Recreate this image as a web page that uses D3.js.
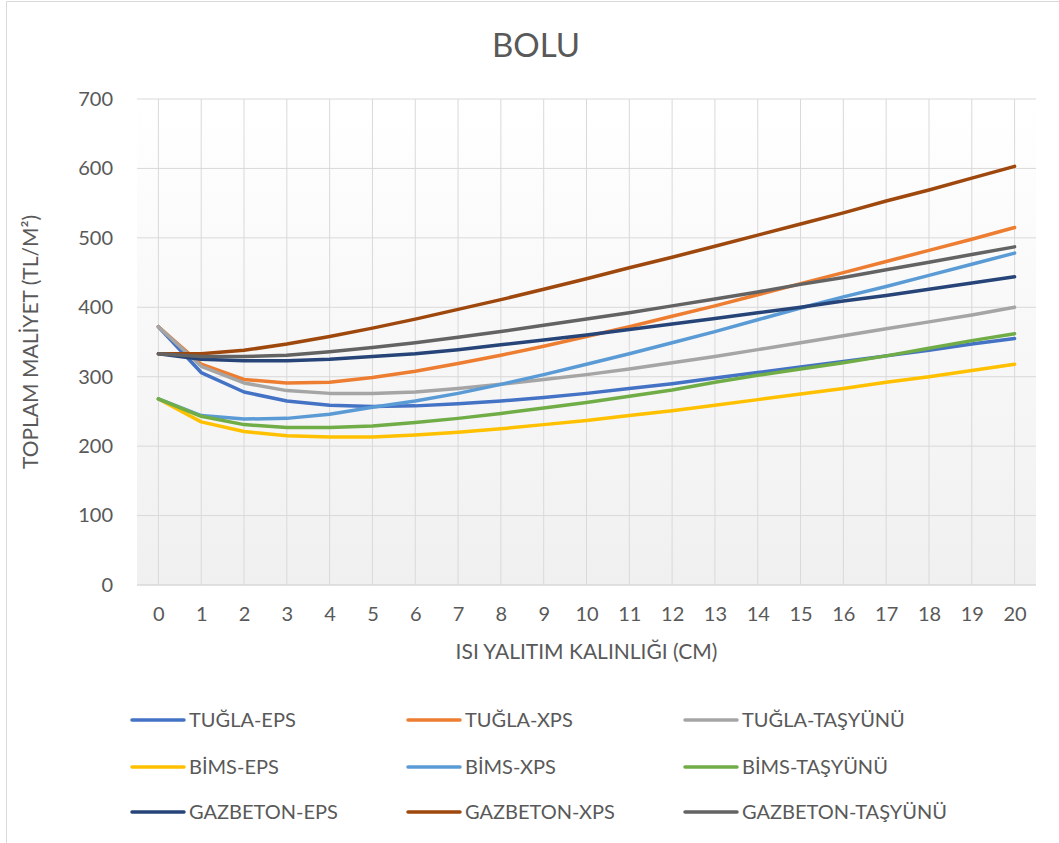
<!DOCTYPE html>
<html>
<head>
<meta charset="utf-8">
<script src="https://cdn.jsdelivr.net/npm/d3@7"></script>
<style>
  body { margin: 0; background: #fff; }
  text { font-family: Lato, "Open Sans", sans-serif; fill: #595959; }
</style>
</head>
<body>
<div id="chart"></div>
<script>
// data
var thickness = d3.range(0, 21).map(String);
var yTicks = [0, 100, 200, 300, 400, 500, 600, 700];

var tuglaEps      = [372, 306, 278, 265, 259, 257, 258, 261, 265, 270, 276, 283, 290, 298, 306, 314, 322, 330, 338, 347, 355];
var tuglaXps      = [372, 318, 296, 291, 292, 299, 308, 319, 331, 344, 358, 372, 387, 402, 418, 434, 450, 466, 482, 498, 515];
var tuglaTasyunu  = [372, 315, 291, 280, 276, 276, 278, 283, 289, 296, 303, 311, 320, 329, 339, 349, 359, 369, 379, 389, 400];
var bimsEps       = [268, 235, 221, 215, 213, 213, 216, 220, 225, 231, 237, 244, 251, 259, 267, 275, 283, 292, 300, 309, 318];
var bimsXps       = [268, 244, 239, 240, 246, 256, 265, 276, 289, 303, 318, 333, 349, 365, 382, 399, 415, 430, 446, 462, 478];
var bimsTasyunu   = [268, 243, 231, 227, 227, 229, 234, 240, 247, 255, 263, 272, 281, 292, 302, 311, 320, 330, 341, 352, 362];
var gazEps        = [333, 325, 323, 323, 325, 329, 333, 339, 346, 353, 360, 368, 376, 384, 392, 400, 409, 417, 426, 435, 444];
var gazXps        = [333, 333, 338, 347, 358, 370, 383, 397, 411, 426, 441, 457, 472, 488, 504, 520, 536, 553, 569, 586, 603];
var gazTasyunu    = [333, 329, 329, 331, 336, 342, 349, 357, 365, 374, 383, 392, 402, 412, 422, 433, 443, 454, 465, 476, 487];

var seriesNames = ["TUĞLA-EPS", "TUĞLA-XPS", "TUĞLA-TAŞYÜNÜ",
                   "BİMS-EPS", "BİMS-XPS", "BİMS-TAŞYÜNÜ",
                   "GAZBETON-EPS", "GAZBETON-XPS", "GAZBETON-TAŞYÜNÜ"];
var seriesColors = ["#4472c4", "#ed7d31", "#a5a5a5",
                    "#ffc000", "#5b9bd5", "#70ad47",
                    "#264478", "#9e480e", "#636363"];
var seriesValues = [tuglaEps, tuglaXps, tuglaTasyunu,
                    bimsEps, bimsXps, bimsTasyunu,
                    gazEps, gazXps, gazTasyunu];

var width = 1059, height = 843;
var plot = {left: 137, right: 1036, top: 99, bottom: 585};

var svg = d3.select("#chart").append("svg")
  .attr("width", width)
  .attr("height", height);

// chart frame (only the left and top edges show in the picture)
svg.append("path")
  .attr("d", "M6.5," + height + "V1.5H" + width)
  .attr("fill", "none")
  .attr("stroke", "#d9d9d9");

var defs = svg.append("defs");
var grad = defs.append("linearGradient")
  .attr("id", "plotbg")
  .attr("x1", 0).attr("y1", 0).attr("x2", 0).attr("y2", 1);
grad.append("stop").attr("offset", "0%").attr("stop-color", "#ffffff");
grad.append("stop").attr("offset", "100%").attr("stop-color", "#f0f0f0");

svg.append("rect")
  .attr("x", plot.left)
  .attr("y", plot.top)
  .attr("width", plot.right - plot.left)
  .attr("height", plot.bottom - plot.top)
  .attr("fill", "url(#plotbg)");

var x = d3.scalePoint()
  .domain(thickness)
  .range([plot.left, plot.right])
  .padding(0.5);

var y = d3.scaleLinear()
  .domain([0, 700])
  .range([plot.bottom, plot.top]);

// gridlines
svg.append("g")
  .selectAll("line")
  .data(thickness)
  .enter()
  .append("line")
    .attr("x1", function(d){ return x(d); })
    .attr("x2", function(d){ return x(d); })
    .attr("y1", plot.top)
    .attr("y2", plot.bottom)
    .attr("stroke", "#d9d9d9")
    .attr("stroke-width", 1);

svg.append("g")
  .selectAll("line")
  .data(yTicks)
  .enter()
  .append("line")
    .attr("x1", plot.left)
    .attr("x2", plot.right)
    .attr("y1", function(d){ return y(d); })
    .attr("y2", function(d){ return y(d); })
    .attr("stroke", "#d9d9d9")
    .attr("stroke-width", function(d){ return d === 0 ? 1.5 : 1; });

// axes
var yAxis = d3.axisLeft(y).tickValues(yTicks).tickSize(0).tickPadding(24);
svg.append("g")
  .attr("transform", "translate(" + plot.left + ",0)")
  .call(yAxis)
  .call(function(g){ g.select(".domain").remove(); })
  .selectAll("text")
    .style("font-family", "Lato, sans-serif")
    .style("font-size", "20px")
    .style("fill", "#595959");

var xAxis = d3.axisBottom(x).tickSize(0).tickPadding(22);
svg.append("g")
  .attr("transform", "translate(0," + plot.bottom + ")")
  .call(xAxis)
  .call(function(g){ g.select(".domain").remove(); })
  .selectAll("text")
    .style("font-family", "Lato, sans-serif")
    .style("font-size", "20px")
    .style("fill", "#595959");

// lines
var line = d3.line()
  .x(function(d, i){ return x(thickness[i]); })
  .y(function(d){ return y(d); });

svg.append("g")
  .selectAll("path")
  .data(seriesValues)
  .enter()
  .append("path")
    .attr("d", line)
    .attr("fill", "none")
    .attr("stroke", function(d, i){ return seriesColors[i]; })
    .attr("stroke-width", 3.5)
    .attr("stroke-linecap", "round")
    .attr("stroke-linejoin", "round");

// titles
svg.append("text")
  .attr("x", 536)
  .attr("y", 57)
  .attr("text-anchor", "middle")
  .style("font-size", "33px")
  .text("BOLU");

svg.append("text")
  .attr("transform", "translate(38," + ((plot.top + plot.bottom) / 2) + ") rotate(-90)")
  .attr("text-anchor", "middle")
  .style("font-size", "21px")
  .text("TOPLAM MALİYET (TL/M²)");

svg.append("text")
  .attr("x", (plot.left + plot.right) / 2)
  .attr("y", 659)
  .attr("text-anchor", "middle")
  .style("font-size", "21px")
  .text("ISI YALITIM KALINLIĞI (CM)");

// legend
var legendCols = [132, 408, 685];
var legendRows = [720, 767, 812];
var legend = svg.append("g")
  .selectAll("g")
  .data(seriesNames)
  .enter()
  .append("g")
    .attr("transform", function(d, i){
      return "translate(" + legendCols[i % 3] + "," + legendRows[Math.floor(i / 3)] + ")";
    });

legend.append("line")
  .attr("x1", 0).attr("x2", 52)
  .attr("y1", 0).attr("y2", 0)
  .attr("stroke", function(d, i){ return seriesColors[i]; })
  .attr("stroke-width", 3.5)
  .attr("stroke-linecap", "round");

legend.append("text")
  .attr("x", 57)
  .attr("y", 7)
  .style("font-size", "20px")
  .text(function(d){ return d; });
</script>
</body>
</html>
